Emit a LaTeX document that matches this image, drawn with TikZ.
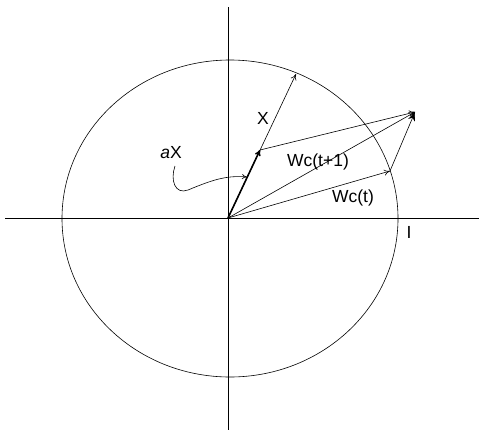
\documentclass[tikz,border=0pt]{standalone}
\usepackage{fontspec}
\setmainfont{Liberation Sans}
\usetikzlibrary{arrows.meta}
\begin{document}
\begin{tikzpicture}[x=1pt,y=-1pt,
  thinline/.style={line width=0.6pt},
  vec/.style={thinline,-{To[length=6pt,width=6pt]}},
  lbl/.style={font=\fontsize{17.5}{20}\selectfont,inner sep=0pt}]
\useasboundingbox (0,0) rectangle (479,431);
\coordinate (O) at (228,218);
\coordinate (Xt) at (296,74);
\coordinate (aXt) at (260,150);
\coordinate (W1) at (415,112);
\coordinate (Wt) at (390,171);
% axes and circle
\draw[thinline] (228,7) -- (228,430);
\draw[thinline] (5,218) -- (479,218);
\draw[thinline] (230,218.5) ellipse [x radius=168, y radius=158.5];
% vectors
\draw[vec] (O) -- (Xt);
\draw[line width=1.6pt,-{To[length=6pt,width=6pt]}] (O) -- (aXt);
\draw[vec] (O) -- (Wt);
\draw[vec] (O) -- (W1);
\draw[vec] (aXt) -- (W1);
\draw[thinline,-{Stealth[length=9pt,width=7pt]}] (Wt) -- (W1);
% labels
\node[lbl] (lX) at (263,118) {X};
\node[lbl] (laX) at (171,153) {\textit{a}X};
\node[lbl] (lW1) at (318,162) {Wc(t+1)};
\node[lbl] (lWt) at (353,198) {Wc(t)};
\node[lbl] (lI) at (409,232) {I};
\coordinate (cEnd) at (247,177);
\draw[thinline,-{To[length=5pt,width=5pt]}] (175,166) .. controls (170,180) and (175,195) .. (188,190) .. controls (210,181) and (225,175) .. (cEnd);
\end{tikzpicture}
\end{document}
